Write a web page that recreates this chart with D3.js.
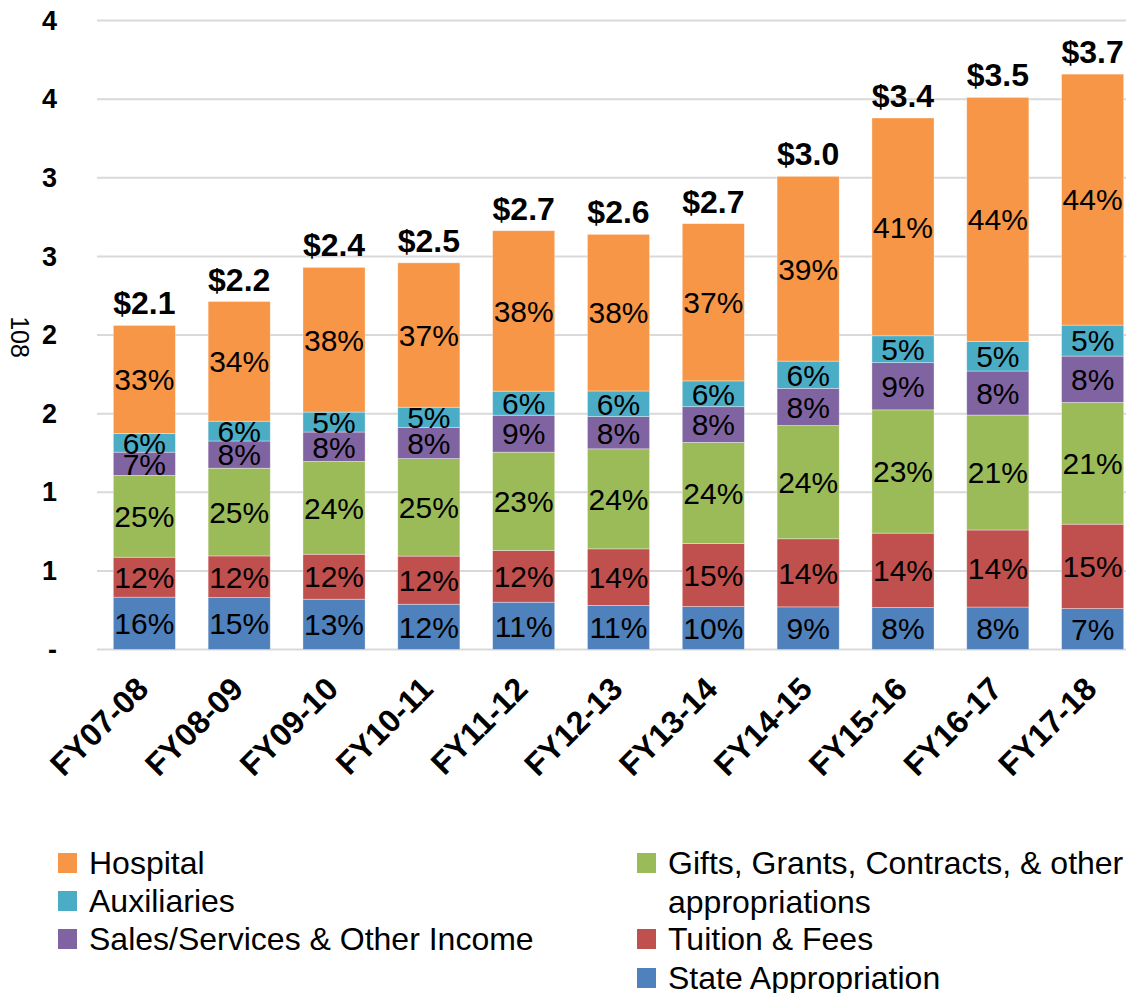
<!DOCTYPE html>
<html>
<head>
<meta charset="utf-8">
<script src="https://cdn.jsdelivr.net/npm/d3@7"></script>
<style>
  body { margin: 0; background: #fff; }
  text { font-family: "Liberation Sans", Arial, sans-serif; }
</style>
</head>
<body>
<div id="chart"></div>
<script>
// fiscal years along x
var years = ["FY07-08", "FY08-09", "FY09-10", "FY10-11", "FY11-12", "FY12-13",
             "FY13-14", "FY14-15", "FY15-16", "FY16-17", "FY17-18"];

// revenue by source (billions), stacked bottom -> top
var stateApprop = [0.333, 0.330, 0.320, 0.288, 0.301, 0.280, 0.273, 0.271, 0.267, 0.270, 0.260];
var tuitionFees = [0.254, 0.265, 0.286, 0.306, 0.329, 0.360, 0.401, 0.433, 0.473, 0.490, 0.537];
var giftsGrants = [0.520, 0.558, 0.590, 0.620, 0.625, 0.636, 0.643, 0.720, 0.784, 0.731, 0.774];
var salesOther  = [0.148, 0.173, 0.187, 0.199, 0.235, 0.205, 0.227, 0.237, 0.300, 0.280, 0.295];
var auxiliaries = [0.119, 0.126, 0.127, 0.128, 0.153, 0.163, 0.164, 0.173, 0.171, 0.189, 0.197];
var hospital    = [0.687, 0.761, 0.920, 0.918, 1.020, 0.996, 1.000, 1.175, 1.385, 1.551, 1.596];

var yTicks = [0, 0.5, 1, 1.5, 2, 2.5, 3, 3.5, 4];

var seriesKeys = ["state", "tuition", "gifts", "sales", "aux", "hospital"];
var seriesColour = {
  state: "#4F81BD", tuition: "#C0504D", gifts: "#9BBB59",
  sales: "#8064A2", aux: "#4BACC6", hospital: "#F79646"
};

// build rows for d3.stack
var rows = years.map(function (y, i) {
  return { year: y, state: stateApprop[i], tuition: tuitionFees[i], gifts: giftsGrants[i],
           sales: salesOther[i], aux: auxiliaries[i], hospital: hospital[i] };
});
rows.forEach(function (d) {
  d.total = seriesKeys.reduce(function (s, k) { return s + d[k]; }, 0);
});

var width = 1126, height = 993;
var svg = d3.select("#chart").append("svg")
  .attr("width", width).attr("height", height);

var x = d3.scaleBand().domain(years).range([97, 1140]).paddingInner(0.345).paddingOuter(0.172);
var y = d3.scaleLinear().domain([0, 4]).range([649.5, 20.5]);

// gridlines
svg.append("g").selectAll("line")
  .data(yTicks).enter().append("line")
    .attr("x1", 97).attr("x2", 1140)
    .attr("y1", function (d) { return y(d); })
    .attr("y2", function (d) { return y(d); })
    .attr("stroke", "#d9d9d9")
    .attr("stroke-width", 2);

// y axis labels (rounded as in the source)
var yAxis = d3.axisLeft(y).tickValues(yTicks).tickSize(0).tickPadding(0)
  .tickFormat(function (d) { return d === 0 ? "-" : String(Math.round(d)); });
svg.append("g").attr("transform", "translate(57,0)").call(yAxis)
  .call(function (g) { g.select(".domain").remove(); })
  .selectAll("text")
    .attr("font-size", "27px").attr("font-weight", "bold").attr("fill", "#000")
    .attr("font-family", "Liberation Sans, Arial, sans-serif");

// y axis title
svg.append("text")
  .attr("transform", "translate(11,337) rotate(90)")
  .attr("text-anchor", "middle")
  .attr("font-size", "25px")
  .text("108");

// stacked bars
var stack = d3.stack().keys(seriesKeys)(rows);

var layers = svg.append("g").selectAll("g")
  .data(stack).enter().append("g")
    .attr("fill", function (d) { return seriesColour[d.key]; });

layers.selectAll("rect")
  .data(function (d) { return d; }).enter().append("rect")
    .attr("x", function (d) { return x(d.data.year); })
    .attr("width", x.bandwidth())
    .attr("y", function (d) { return y(d[1]); })
    .attr("height", function (d) { return y(d[0]) - y(d[1]); })
    .attr("stroke", "#ffffff").attr("stroke-opacity", 0.5).attr("stroke-width", 0.7);

// percentage labels
layers.selectAll("text.pct")
  .data(function (d) { return d; }).enter().append("text")
    .attr("class", "pct")
    .attr("x", function (d) { return x(d.data.year) + x.bandwidth() / 2; })
    .attr("y", function (d) { return (y(d[0]) + y(d[1])) / 2; })
    .attr("dy", "0.36em")
    .attr("text-anchor", "middle")
    .attr("font-size", "30px")
    .attr("fill", "#000")
    .text(function (d) { return Math.round((d[1] - d[0]) / d.data.total * 100) + "%"; });

// totals above bars
svg.append("g").selectAll("text")
  .data(rows).enter().append("text")
    .attr("x", function (d) { return x(d.year) + x.bandwidth() / 2; })
    .attr("y", function (d) { return y(d.total) - 11; })
    .attr("text-anchor", "middle")
    .attr("font-size", "32px")
    .attr("font-weight", "bold")
    .text(function (d) { return "$" + d3.format(".1f")(d.total); });

// x labels, rotated
svg.append("g").selectAll("text")
  .data(years).enter().append("text")
    .attr("transform", function (d) {
      return "translate(" + (x(d) + x.bandwidth() / 2 + 6) + ",691) rotate(-45)";
    })
    .attr("text-anchor", "end")
    .attr("font-size", "32px")
    .attr("font-weight", "bold")
    .text(function (d) { return d; });

// legend
var legendLeft = [
  { key: "hospital", lines: ["Hospital"], cy: 863 },
  { key: "aux", lines: ["Auxiliaries"], cy: 901 },
  { key: "sales", lines: ["Sales/Services & Other Income"], cy: 939 }
];
var legendRight = [
  { key: "gifts", lines: ["Gifts, Grants, Contracts, & other", "appropriations"], cy: 863 },
  { key: "tuition", lines: ["Tuition & Fees"], cy: 939 },
  { key: "state", lines: ["State Appropriation"], cy: 978 }
];

function drawLegend(items, x0) {
  var g = svg.append("g");
  items.forEach(function (it) {
    g.append("rect")
      .attr("x", x0).attr("y", it.cy - 10)
      .attr("width", 19).attr("height", 20)
      .attr("fill", seriesColour[it.key]);
    it.lines.forEach(function (ln, j) {
      g.append("text")
        .attr("x", x0 + 31).attr("y", it.cy + 11 + j * 38.5)
        .attr("font-size", "32px")
        .text(ln);
    });
  });
}
drawLegend(legendLeft, 58);
drawLegend(legendRight, 637);
</script>
</body>
</html>
